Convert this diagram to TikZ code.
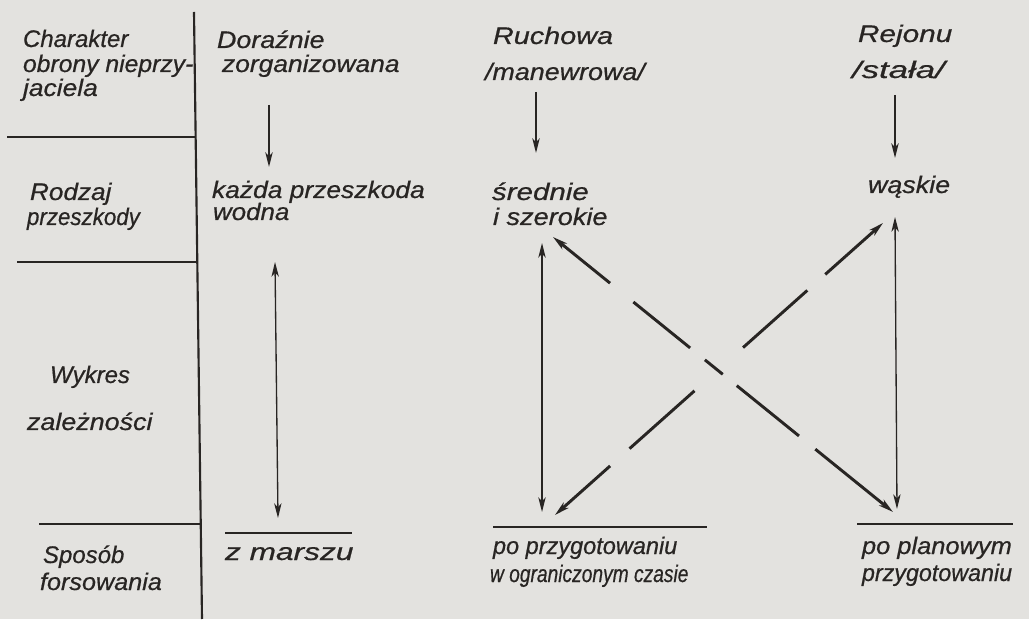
\documentclass[tikz,border=0pt]{standalone}
\usepackage{fontspec}
\setmainfont{Liberation Sans}[ItalicFeatures={FakeBold=0.6}]
\usetikzlibrary{arrows.meta}
\definecolor{ink}{RGB}{40,37,35}
\definecolor{paper}{RGB}{227,226,223}
\newcommand{\hx}[2]{\scalebox{#1}[1]{#2}}
\begin{document}
\begin{tikzpicture}[x=0.75pt,y=-0.75pt,
  txt/.style={anchor=base west, inner sep=0pt, outer sep=0pt, text=ink,
    font=\fontsize{18pt}{20pt}\selectfont\itshape},
  rulel/.style={draw=ink, line width=2pt},
  divl/.style={draw=ink, line width=1.6pt},
  thinl/.style={draw=ink, line width=1pt},
  arrl/.style={draw=ink, line width=1.4pt},
  diagl/.style={draw=ink, line width=2.2pt},
  tip/.style={-{Stealth[length=11pt,width=5.5pt,inset=3pt]}},
  dtip/.style={{Stealth[length=11pt,width=5.5pt,inset=3pt]}-{Stealth[length=11pt,width=5.5pt,inset=3pt]}},
]
% paper
\path[fill=paper] (0,0) rectangle (1029,619);

% table rules
\draw[divl] (194,12) -- (202,619);
\draw[rulel] (7,137) -- (195,137);
\draw[rulel] (17,262) -- (196,262);
\draw[rulel] (39,524) -- (200,524);
\draw[rulel] (225,533) -- (352,533);
\draw[rulel] (493,527) -- (707,527);
\draw[rulel] (857,524) -- (1013,524);

% left column
\node[txt] (c1) at (23,47) {Charakter};
\node[txt] (c2) at (23,72) {\hx{1.03}{obrony nieprzy-}};
\node[txt] (c3) at (23,96) {\hx{1.1}{jaciela}};
\node[txt] (r1) at (30,200) {\hx{1.09}{Rodzaj}};
\node[txt] (r2) at (27,225) {\hx{0.93}{przeszkody}};
\node[txt] (w1) at (50,383) {Wykres};
\node[txt] (w2) at (27,430) {\hx{1.12}{zależności}};
\node[txt] (s1) at (43,563) {Sposób};
\node[txt] (s2) at (40,590) {\hx{1.05}{forsowania}};

% column 1
\node[txt] (o1) at (217,48) {\hx{1.12}{Doraźnie}};
\node[txt] (o2) at (222,72) {\hx{1.1}{zorganizowana}};
\node[txt] (k1) at (212,198) {\hx{1.1}{każda przeszkoda}};
\node[txt] (k2) at (213,220) {\hx{1.08}{wodna}};
\node[txt] (z1) at (225,560) {\hx{1.32}{z marszu}};

% column 2
\node[txt] (m1) at (493,44) {\hx{1.2}{Ruchowa}};
\node[txt] (m2) at (485,80) {\hx{1.12}{/manewrowa/}};
\node[txt] (e1) at (492,200) {\hx{1.23}{średnie}};
\node[txt] (e2) at (493,225) {\hx{1.13}{i szerokie}};
\node[txt] (p1) at (493,554) {\hx{0.98}{po przygotowaniu}};
\node[txt] (p2) at (490,582) {\hx{0.8}{w ograniczonym czasie}};

% column 3
\node[txt] (j1) at (858,42) {\hx{1.24}{Rejonu}};
\node[txt] (j2) at (852,78) {\hx{1.45}{/stała/}};
\node[txt] (q1) at (868,193) {\hx{1.12}{wąskie}};
\node[txt] (n1) at (862,554) {\hx{1.06}{po planowym}};
\node[txt] (n2) at (862,581) {\hx{0.97}{przygotowaniu}};

% connector end points
\coordinate (a1s) at (269,105); \coordinate (a1e) at (269,167);
\coordinate (a2s) at (536,92);  \coordinate (a2e) at (536,153);
\coordinate (a3s) at (895,95);  \coordinate (a3e) at (895,158);
\coordinate (v1t) at (275,262); \coordinate (v1b) at (278,518);
\coordinate (v2t) at (542,243); \coordinate (v2b) at (542,512);
\coordinate (v3t) at (895,217); \coordinate (v3b) at (897,509);
\coordinate (d1t) at (553,237); \coordinate (d1b) at (893,512);
\coordinate (d2t) at (883,223); \coordinate (d2b) at (555,515);

% short arrows
\draw[arrl,tip] (a1s) -- (a1e);
\draw[arrl,tip] (a2s) -- (a2e);
\draw[arrl,tip] (a3s) -- (a3e);

% double arrows
\draw[thinl,dtip] (v1t) -- (v1b);
\draw[thinl,dtip] (v2t) -- (v2b);
\draw[thinl,dtip] (v3t) -- (v3b);

% crossing broken diagonals
\draw[diagl,dtip,dash pattern=on 48pt off 22.5pt on 54.75pt off 14.25pt on 17.25pt off 13.5pt on 60pt off 15.75pt on 200pt] (d1t) -- (d1b);
\draw[diagl,dtip,dash pattern=on 51pt off 18pt on 64.5pt off 48.75pt on 65.25pt off 19.5pt on 200pt] (d2t) -- (d2b);
\end{tikzpicture}
\end{document}
